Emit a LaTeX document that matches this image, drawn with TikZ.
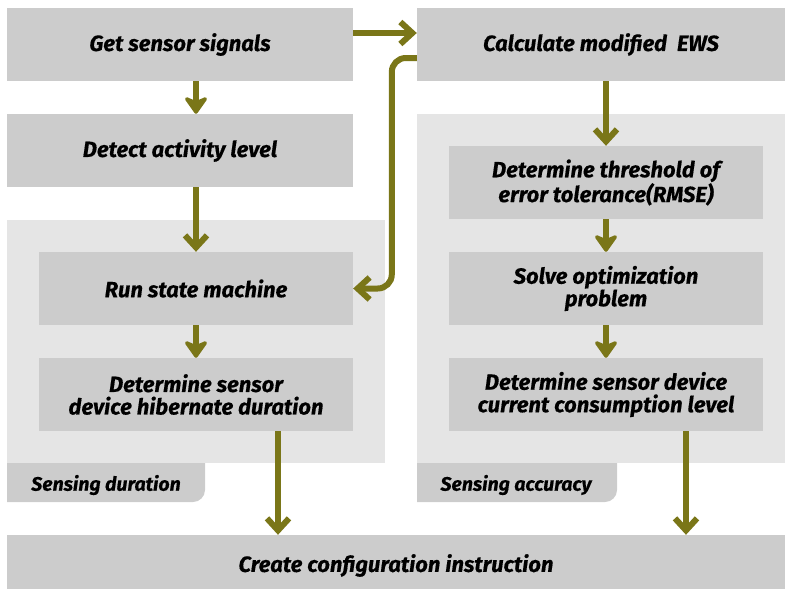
\documentclass[tikz,border=0pt]{standalone}
\usepackage{fontspec}
\setmainfont{Fira Sans}[BoldItalicFeatures={FakeBold=0.4}]
\usetikzlibrary{arrows.meta}
\definecolor{boxgray}{HTML}{CCCCCC}
\definecolor{groupgray}{HTML}{E5E5E5}
\definecolor{flowolive}{RGB}{122,118,24}
\begin{document}
\begin{tikzpicture}[x=1pt,y=-1pt,
  stepbox/.style={fill=boxgray, draw=none, inner sep=0pt, align=center,
    font=\fontsize{22}{22.5}\selectfont\bfseries\itshape, text=black},
  wide/.style={stepbox, minimum width=346pt, minimum height=73pt},
  inner/.style={stepbox, minimum width=314pt, minimum height=73pt},
  groupbg/.style={fill=groupgray, draw=none},
  tabbox/.style={fill=boxgray, draw=none},
  tablabel/.style={font=\fontsize{19.5}{22}\selectfont\bfseries\itshape, text=black},
  shortflow/.style={draw=flowolive, line width=6pt,
    -{Stealth[length=20pt, width=28pt, inset=6pt, round=false]}},
  longflow/.style={draw=flowolive, line width=6pt,
    -{Straight Barb[length=12pt, width=22pt]}}]
\useasboundingbox (0,0) rectangle (785,589);

% group backgrounds and their tabs
\fill[groupbg] (7,220) rectangle (385,463);
\fill[groupbg] (417,114) rectangle (785,463);
\fill[tabbox] (7,463) -- (205,463) -- (205,490) arc[start angle=0, end angle=-90, radius=12pt] -- (7,502) -- cycle;
\fill[tabbox] (417,463) -- (617,463) -- (617,490) arc[start angle=0, end angle=-90, radius=12pt] -- (417,502) -- cycle;
\node[tablabel] (tabdur) at (106,485) {Sensing duration};
\node[tablabel] (tabacc) at (516,485) {Sensing accuracy};

% process steps
\node[wide] (get) at (180,44.5) {Get sensor signals};
\node[wide] (detect) at (180,150.5) {Detect activity level};
\node[inner] (run) at (196,288.5) {Run state machine};
\node[inner] (hib) at (196,394.5) {Determine sensor\\device hibernate duration};
\node[stepbox, minimum width=368pt, minimum height=73pt] (calc) at (601,44.5) {Calculate modified\ \ EWS};
\node[inner] (thr) at (606,182.5) {Determine threshold of\\error tolerance(RMSE)};
\node[inner] (solve) at (606,288.5) {Solve optimization\\problem};
\node[inner] (cur) at (606,394.5) {Determine sensor device\\current consumption level};
\node[stepbox, minimum width=778pt, minimum height=54pt, text depth=0pt] (create) at (396,562) {\raisebox{-2pt}{Create configuration instruction}};

% connectors
\draw[shortflow] (get.south -| run) -- (detect.north -| run);
\draw[longflow] (detect.south -| run) -- (run.north);
\draw[shortflow] (run.south) -- (hib.north);
\draw[longflow] ([xshift=82pt]hib.south) -- ([xshift=82pt]hib.south |- create.north);
\draw[longflow] ([yshift=11.5pt]get.east) -- ([yshift=11.5pt]get.east -| calc.west);
\draw[longflow, rounded corners=14pt] ([yshift=-13.5pt]calc.west) -- ++(-25,0) |- (run.east);
\draw[longflow] (calc.south -| thr) -- (thr.north);
\draw[shortflow] (thr.south) -- (solve.north);
\draw[shortflow] (solve.south) -- (cur.north);
\draw[longflow] ([xshift=80pt]cur.south) -- ([xshift=80pt]cur.south |- create.north);
\end{tikzpicture}
\end{document}
